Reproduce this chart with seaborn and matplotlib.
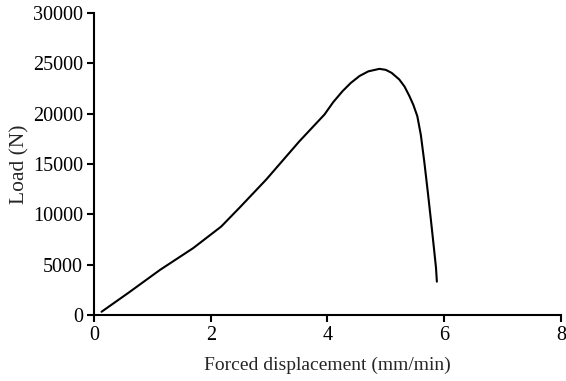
import pandas as pd
import matplotlib.pyplot as plt
import seaborn as sns

# values
displacement = [0.13, 0.6, 1.13, 1.7, 2.18, 2.5, 2.95, 3.52, 3.95, 4.1, 4.26, 4.4, 4.55, 4.7,
                4.89, 5.0, 5.1, 5.23, 5.32, 5.40, 5.47, 5.54, 5.60, 5.66, 5.72, 5.77, 5.82,
                5.86, 5.875]
load = [330, 2250, 4480, 6650, 8790, 10700, 13450, 17260, 19920, 21150, 22240, 23050, 23740,
        24200, 24450, 24350, 24050, 23400, 22700, 21800, 20900, 19750, 17900, 15200, 12200,
        9600, 6900, 4700, 3320]

df = pd.DataFrame({"Forced displacement (mm/min)": displacement, "Load (N)": load})

sns.set_style("ticks")
plt.rcParams["font.family"] = ["Liberation Serif", "DejaVu Serif"]

fig = plt.figure(figsize=(5.66, 3.81), dpi=100)
ax = fig.add_axes([0.166, 0.173, 0.825, 0.793])
sns.lineplot(data=df, x="Forced displacement (mm/min)", y="Load (N)", sort=False,
             color="black", linewidth=1.5, ax=ax)

ax.set_xlim(0, 8)
ax.set_ylim(0, 30000)
ax.set_xticks([0, 2, 4, 6, 8])
ax.set_yticks(range(0, 30001, 5000))
ax.tick_params(direction="out", length=5, width=1.5, labelsize=14.5, colors="black", pad=3)
for s in ["left", "bottom"]:
    ax.spines[s].set_linewidth(1.5)
    ax.spines[s].set_color("black")
sns.despine(ax=ax)
ax.set_xlabel("Forced displacement (mm/min)", fontsize=14, labelpad=8)
ax.set_ylabel("Load (N)", fontsize=15.5, labelpad=2)

fig.savefig("out.png", dpi=100)
